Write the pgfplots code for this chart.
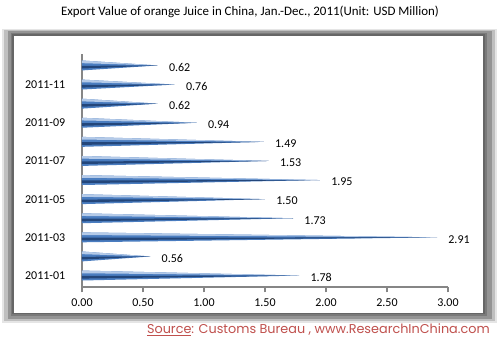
\documentclass[border=0pt]{standalone}
\usepackage{pgfplots}
\pgfplotsset{compat=1.18}
\usepackage{fontspec}
\setmainfont{Carlito}
\newfontfamily\srcfont{Poppins}
\definecolor{barmid}{HTML}{4A7DC0}
\definecolor{bartop}{HTML}{B4CAE8}
\definecolor{barbot}{HTML}{23467A}
\definecolor{axgray}{HTML}{868686}
\definecolor{srcred}{HTML}{C0504D}
\begin{document}
\begin{tikzpicture}[x=0.75pt,y=0.75pt]
\fill[white] (0,0) rectangle (500,344);
% frame
\fill[black!10] (2,344-323) rectangle (497,344-29);
\fill[black!25] (4,344-321) rectangle (495,344-30);
\fill[black!42] (8,344-319) rectangle (492,344-31);
\fill[black!52] (11,344-316) rectangle (487,344-33);
\fill[white] (13.5,344-313) rectangle (483.5,344-35.5);
\draw[black!60, line width=0.9pt] (13,344-313.5) rectangle (484,344-35);
% title
\node[font=\fontsize{9.7}{11}\selectfont] at (250,344-12) {Export Value of orange Juice in China, Jan.-Dec., 2011(Unit: USD Million)};
% source
\node[anchor=east, text=srcred, font=\srcfont\fontsize{9.6}{11}\selectfont, inner sep=0pt] at (490,344-330) {\underline{Source}: Customs Bureau , www.ResearchInChina.com};
\begin{axis}[
  at={(61.5pt,42.75pt)}, anchor=south west,
  scale only axis, width=274.5pt, height=174.75pt,
  xmin=0, xmax=3, ymin=0.4, ymax=12.6,
  axis lines*=left,
  axis line style={axgray, line width=0.8pt},
  xtick={0,0.5,1,1.5,2,2.5,3},
  xticklabel={\pgfmathprintnumber[fixed,zerofill,precision=2,assume math mode=true]{\tick}},
  ytick={1,3,5,7,9,11},
  yticklabels={2011-01,2011-03,2011-05,2011-07,2011-09,2011-11},
  minor ytick={2.5,4.5,6.5,8.5,10.5,12.5},
  tick style={axgray, line width=0.8pt},
  xtick style={axgray},
  major tick length=4pt, minor tick length=4pt,
  tick align=outside,
  ytick style={draw=none},
  minor tick style={axgray, line width=0.8pt},
  tick label style={font=\fontsize{9}{11}\selectfont},
  yticklabel style={xshift=-5pt},
  xticklabel style={yshift=-1pt},
  clip=false,
  full/.style={draw=none, mark=none, forget plot, fill=barmid},
  top/.style={draw=none, mark=none, forget plot, fill=bartop},
  dark/.style={draw=none, mark=none, forget plot, fill=barbot},
]
% 2011-01
\addplot[full] coordinates {(0,0.74) (1.78,1) (0,1.26)};
\addplot[top]  coordinates {(0,1.12) (1.78,1) (0,1.26)};
\addplot[dark] coordinates {(0,0.84) (1.78,1) (0,0.98)};
% 2011-02
\addplot[full] coordinates {(0,1.74) (0.56,2) (0,2.26)};
\addplot[top]  coordinates {(0,2.12) (0.56,2) (0,2.26)};
\addplot[dark] coordinates {(0,1.84) (0.56,2) (0,1.98)};
% 2011-03
\addplot[full] coordinates {(0,2.74) (2.91,3) (0,3.26)};
\addplot[top]  coordinates {(0,3.12) (2.91,3) (0,3.26)};
\addplot[dark] coordinates {(0,2.84) (2.91,3) (0,2.98)};
% 2011-04
\addplot[full] coordinates {(0,3.74) (1.73,4) (0,4.26)};
\addplot[top]  coordinates {(0,4.12) (1.73,4) (0,4.26)};
\addplot[dark] coordinates {(0,3.84) (1.73,4) (0,3.98)};
% 2011-05
\addplot[full] coordinates {(0,4.74) (1.50,5) (0,5.26)};
\addplot[top]  coordinates {(0,5.12) (1.50,5) (0,5.26)};
\addplot[dark] coordinates {(0,4.84) (1.50,5) (0,4.98)};
% 2011-06
\addplot[full] coordinates {(0,5.74) (1.95,6) (0,6.26)};
\addplot[top]  coordinates {(0,6.12) (1.95,6) (0,6.26)};
\addplot[dark] coordinates {(0,5.84) (1.95,6) (0,5.98)};
% 2011-07
\addplot[full] coordinates {(0,6.74) (1.53,7) (0,7.26)};
\addplot[top]  coordinates {(0,7.12) (1.53,7) (0,7.26)};
\addplot[dark] coordinates {(0,6.84) (1.53,7) (0,6.98)};
% 2011-08
\addplot[full] coordinates {(0,7.74) (1.49,8) (0,8.26)};
\addplot[top]  coordinates {(0,8.12) (1.49,8) (0,8.26)};
\addplot[dark] coordinates {(0,7.84) (1.49,8) (0,7.98)};
% 2011-09
\addplot[full] coordinates {(0,8.74) (0.94,9) (0,9.26)};
\addplot[top]  coordinates {(0,9.12) (0.94,9) (0,9.26)};
\addplot[dark] coordinates {(0,8.84) (0.94,9) (0,8.98)};
% 2011-10
\addplot[full] coordinates {(0,9.74) (0.62,10) (0,10.26)};
\addplot[top]  coordinates {(0,10.12) (0.62,10) (0,10.26)};
\addplot[dark] coordinates {(0,9.84) (0.62,10) (0,9.98)};
% 2011-11
\addplot[full] coordinates {(0,10.74) (0.76,11) (0,11.26)};
\addplot[top]  coordinates {(0,11.12) (0.76,11) (0,11.26)};
\addplot[dark] coordinates {(0,10.84) (0.76,11) (0,10.98)};
% 2011-12
\addplot[full] coordinates {(0,11.74) (0.62,12) (0,12.26)};
\addplot[top]  coordinates {(0,12.12) (0.62,12) (0,12.26)};
\addplot[dark] coordinates {(0,11.84) (0.62,12) (0,11.98)};
\addplot[draw=none, mark=none, point meta=x,
  nodes near coords={\pgfmathprintnumber[fixed,zerofill,precision=2,assume math mode=true]{\pgfplotspointmeta}},
  nodes near coords style={anchor=west, xshift=5pt, yshift=-1.5pt, font=\fontsize{9}{11}\selectfont, text=black}]
  coordinates {(1.78,1) (0.56,2) (2.91,3) (1.73,4) (1.50,5) (1.95,6) (1.53,7) (1.49,8) (0.94,9) (0.62,10) (0.76,11) (0.62,12)};
\end{axis}
\end{tikzpicture}
\end{document}
